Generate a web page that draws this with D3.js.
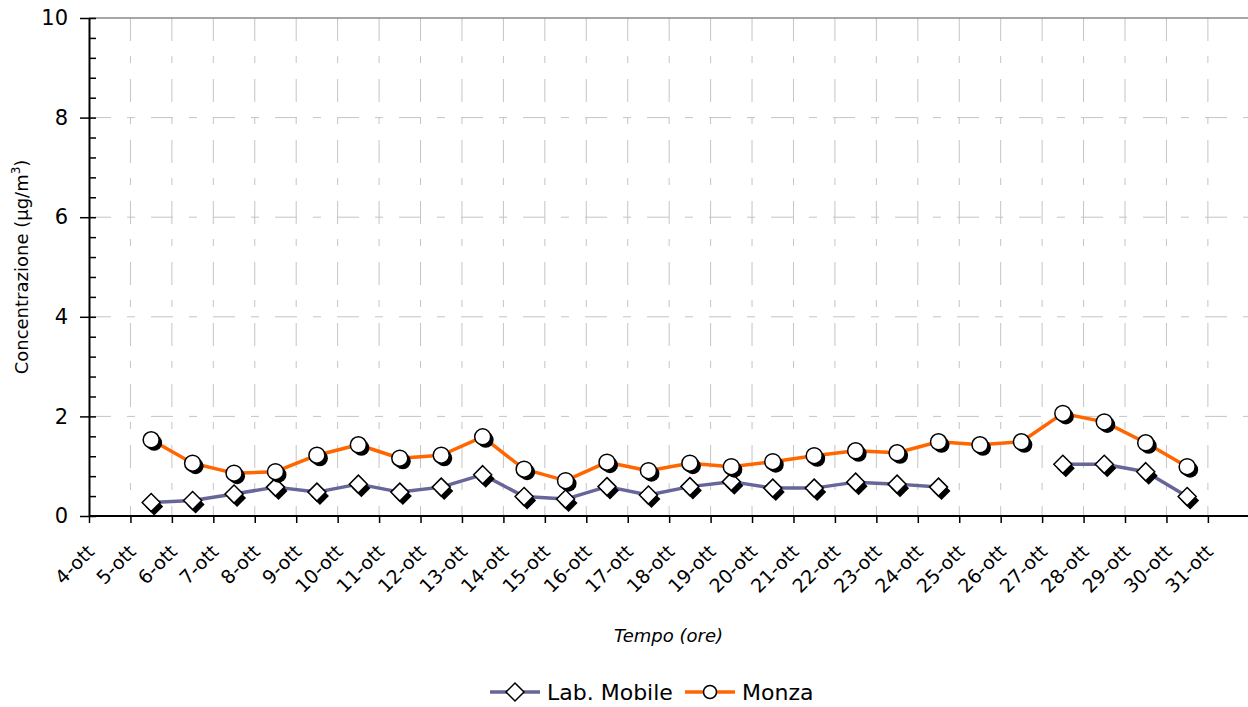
<!DOCTYPE html>
<html>
<head>
<meta charset="utf-8">
<script src="https://cdn.jsdelivr.net/npm/d3@7"></script>
<style>
  body { margin: 0; background: #fff; }
  svg { display: block; font-family: "DejaVu Sans", sans-serif; }
</style>
</head>
<body>
<div id="chart"></div>
<script>
// ---- data ----
const tickDays = d3.range(4, 32);           // 4-ott .. 31-ott
const pointDays = d3.range(5, 31);          // daily means, plotted at midday
const labMobile = [0.27, 0.31, 0.44, 0.58, 0.48, 0.64, 0.48, 0.58, 0.83, 0.39, 0.34, 0.59, 0.42,
                   0.59, 0.69, 0.56, 0.56, 0.68, 0.64, 0.58, null, null, 1.04, 1.04, 0.89, 0.39];
const monza = [1.53, 1.06, 0.86, 0.89, 1.22, 1.43, 1.16, 1.22, 1.59, 0.94, 0.71, 1.08, 0.91,
               1.06, 0.99, 1.09, 1.21, 1.31, 1.27, 1.49, 1.43, 1.49, 2.06, 1.89, 1.47, 0.99];
const yMajor = [0, 2, 4, 6, 8, 10];

const W = 1248, H = 707;
const plot = { left: 89, top: 18, bottom: 516, right: 1249 };
const dayW = 41.44;

const svg = d3.select('#chart').append('svg')
  .attr('width', W).attr('height', H);

const x = d3.scaleLinear().domain([4, 32]).range([plot.left, plot.left + 28 * dayW]);
const y = d3.scaleLinear().domain([0, 10]).range([plot.bottom, plot.top]);

const gridColor = '#c4c4c4';

// horizontal grid (dash-dot)
svg.append('g').selectAll('line')
  .data(yMajor.filter(v => v > 0 && v < 10))
  .join('line')
  .attr('x1', plot.left).attr('x2', W)
  .attr('y1', d => y(d)).attr('y2', d => y(d))
  .attr('stroke', gridColor).attr('stroke-width', 1)
  .attr('stroke-dasharray', '22,16,8,16');

// vertical grid (dash-dot)
svg.append('g').selectAll('line')
  .data(tickDays.slice(1))
  .join('line')
  .attr('x1', d => x(d)).attr('x2', d => x(d))
  .attr('y1', plot.top).attr('y2', plot.bottom)
  .attr('stroke', gridColor).attr('stroke-width', 1)
  .attr('stroke-dasharray', '23,15,7,16');

// top border of plot area
svg.append('line')
  .attr('x1', plot.left).attr('x2', W)
  .attr('y1', y(10)).attr('y2', y(10))
  .attr('stroke', '#8a8a8a').attr('stroke-width', 1.5);

// y axis: major ticks outside + labels
const yAxis = svg.append('g')
  .attr('transform', `translate(${plot.left},0)`)
  .call(d3.axisLeft(y).tickValues(yMajor).tickSize(9).tickSizeOuter(0).tickPadding(12));
yAxis.select('.domain').attr('stroke', '#000').attr('stroke-width', 2);
yAxis.selectAll('.tick line').attr('stroke', '#000').attr('stroke-width', 1.5);
yAxis.selectAll('.tick text')
  .attr('font-size', '21px').attr('fill', '#000')
  .attr('font-family', '"DejaVu Sans", sans-serif');

// y axis: minor ticks inside
const yMinor = svg.append('g')
  .attr('transform', `translate(${plot.left},0)`)
  .call(d3.axisRight(y).tickValues(d3.range(0, 51).filter(i => i % 2 === 0).map(i => i / 5))
    .tickSize(7).tickSizeOuter(0).tickFormat(''));
yMinor.select('.domain').remove();
yMinor.selectAll('.tick line').attr('stroke', '#000').attr('stroke-width', 1.5);

// x axis
const xAxis = svg.append('g')
  .attr('transform', `translate(0,${plot.bottom})`)
  .call(d3.axisBottom(x).tickValues(tickDays).tickSize(7).tickSizeOuter(0)
    .tickFormat(d => `${d}-ott`));
xAxis.select('.domain').attr('stroke', '#000').attr('stroke-width', 2)
  .attr('d', `M${plot.left},0H${W}`);
xAxis.selectAll('.tick line').attr('stroke', '#000').attr('stroke-width', 1.5);
xAxis.selectAll('.tick text')
  .attr('font-size', '19px').attr('fill', '#000')
  .attr('font-family', '"DejaVu Sans", sans-serif')
  .attr('text-anchor', 'end')
  .attr('x', 6).attr('y', 37).attr('dy', 0)
  .attr('transform', 'rotate(-45, 6, 37)');

// axis titles
svg.append('text')
  .attr('x', (plot.left + W) / 2).attr('y', 642)
  .attr('text-anchor', 'middle')
  .attr('font-size', '18px').attr('font-style', 'italic')
  .text('Tempo (ore)');

const yTitle = svg.append('text')
  .attr('transform', `translate(28,${(plot.top + plot.bottom) / 2}) rotate(-90)`)
  .attr('text-anchor', 'middle')
  .attr('font-size', '18px');
yTitle.append('tspan').text('Concentrazione (µg/m');
yTitle.append('tspan').attr('dy', -8).attr('font-size', '12px').text('3');
yTitle.append('tspan').attr('dy', 8).text(')');

// series
const diamond = r => `M0,${-r}L${r},0L0,${r}L${-r},0Z`;
const series = [
  { name: 'Lab. Mobile', values: labMobile, color: '#666699', shape: 'diamond' },
  { name: 'Monza', values: monza, color: '#ff6600', shape: 'circle' }
];

const line = d3.line()
  .defined(d => d.v != null)
  .x(d => x(d.day + 0.5))
  .y(d => y(d.v));

series.forEach(s => {
  const pts = pointDays.map((day, i) => ({ day, v: s.values[i] }));
  const g = svg.append('g');

  g.append('path')
    .datum(pts)
    .attr('d', line)
    .attr('fill', 'none')
    .attr('stroke', s.color)
    .attr('stroke-width', 3.5)
    .attr('stroke-linejoin', 'round');

  const valid = pts.filter(d => d.v != null);
  const mk = g.selectAll('g.mk').data(valid).join('g')
    .attr('class', 'mk')
    .attr('transform', d => `translate(${x(d.day + 0.5)},${y(d.v)})`);

  if (s.shape === 'circle') {
    mk.append('circle').attr('cx', 3).attr('cy', 3).attr('r', 8).attr('fill', '#000');
    mk.append('circle').attr('r', 8).attr('fill', '#fff')
      .attr('stroke', '#000').attr('stroke-width', 1.5);
  } else {
    mk.append('path').attr('d', diamond(9)).attr('transform', 'translate(3,4)').attr('fill', '#000');
    mk.append('path').attr('d', diamond(9)).attr('fill', '#fff')
      .attr('stroke', '#000').attr('stroke-width', 1.5);
  }
});

// legend
const legend = svg.append('g').attr('transform', 'translate(0,692)');
const legendItems = [
  { s: series[0], x0: 490, x1: 540, tx: 547 },
  { s: series[1], x0: 685, x1: 735, tx: 742 }
];
legendItems.forEach(it => {
  legend.append('line')
    .attr('x1', it.x0).attr('x2', it.x1).attr('y1', 0).attr('y2', 0)
    .attr('stroke', it.s.color).attr('stroke-width', 3.5);
  const cx = (it.x0 + it.x1) / 2;
  if (it.s.shape === 'circle') {
    legend.append('circle').attr('cx', cx).attr('cy', 0).attr('r', 6.5)
      .attr('fill', '#fff').attr('stroke', '#000').attr('stroke-width', 1.5);
  } else {
    legend.append('path').attr('d', diamond(9))
      .attr('transform', `translate(${cx},0)`)
      .attr('fill', '#fff').attr('stroke', '#000').attr('stroke-width', 1.5);
  }
  legend.append('text')
    .attr('x', it.tx).attr('y', 8)
    .attr('font-size', '22px')
    .text(it.s.name);
});
</script>
</body>
</html>
